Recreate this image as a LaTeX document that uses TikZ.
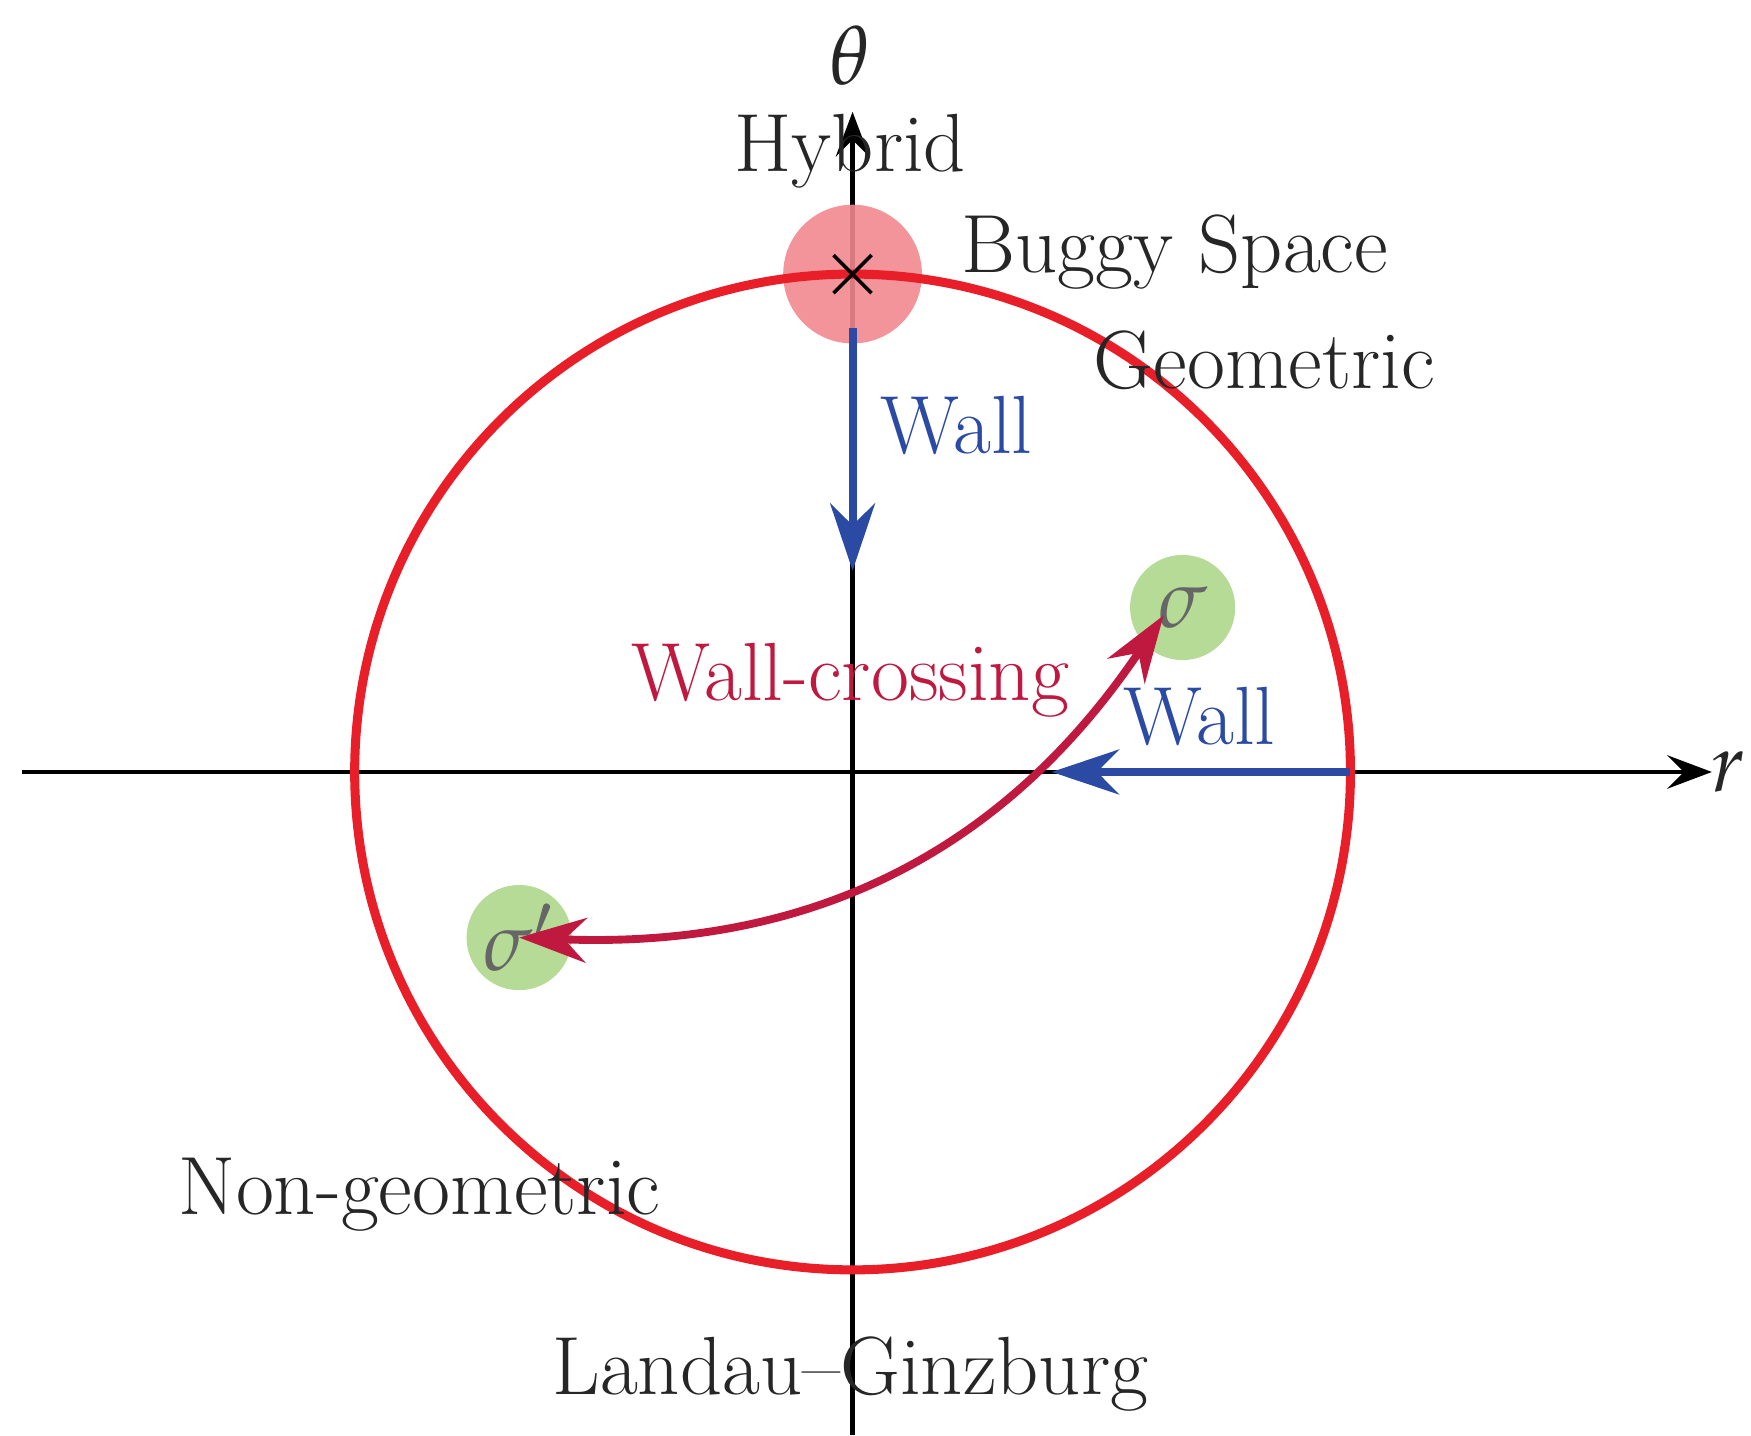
\documentclass[tikz,border=0pt]{standalone}
\usepackage{mathpazo}
\usetikzlibrary{positioning, arrows.meta}
\definecolor{wallred}{rgb}{0.91,0.12,0.16}
\definecolor{wallblue}{rgb}{0.17,0.29,0.64}
\definecolor{crimson}{rgb}{0.75,0.10,0.25}
\definecolor{leaf}{rgb}{0.71,0.86,0.59}
\definecolor{blush}{rgb}{0.95,0.53,0.56}
\begin{document}
\begin{tikzpicture}[
  x=1cm, y=1cm,
  every node/.style={font=\fontsize{21}{25}\selectfont, text=black!85},
  axis/.style={line width=1.1pt, -{Stealth[length=4mm, width=3mm, inset=1.5mm]}},
  wall/.style={line width=2pt, color=wallblue, -{Stealth[length=6mm, width=4mm]}},
  blob/.style={circle, fill=leaf, minimum size=0.94cm, inner sep=0pt},
]
\useasboundingbox (0,0) rectangle (15.65,12.83);

% axes
\coordinate (o) at (7.62,5.93);
\coordinate (xl) at (0.20,5.93);
\coordinate (xr) at (15.30,5.93);
\coordinate (yb) at (7.62,0);
\coordinate (yt) at (7.62,11.83);
\draw[axis] (xl) -- (xr);
\draw[axis] (yb) -- (yt);
\node (r) at (15.45,5.93) {$r$};
\node (theta) at (7.60,12.33) {$\theta$};

% singular point
\node[circle, fill=blush, opacity=0.9, minimum size=1.24cm, inner sep=0pt] (buggy) at (7.62,10.38) {};
\draw[line width=2.3pt, wallred] (o) circle (4.45);
\draw[line width=0.9pt] (buggy.center) ++(-0.17,-0.17) -- ++(0.34,0.34)
  (buggy.center) ++(-0.17,0.17) -- ++(0.34,-0.34);

% chambers
\node[blob] (s) at (10.57,7.40) {};
\node[blob] (sp) at (4.64,4.45) {};
\node[text=black!60] at (s) {$\sigma$};
\node[text=black!60] at (sp) {$\sigma'$};

% walls
\coordinate (w1) at (7.62,9.90);
\coordinate (w1e) at (7.62,7.73);
\coordinate (w2) at (12.07,5.93);
\coordinate (w2e) at (9.40,5.93);
\draw[wall] (w1) -- (w1e);
\draw[wall] (w2) -- (w2e);
\node[text=wallblue] (wall1) at (8.55,9.03) {Wall};
\node[text=wallblue] (wall2) at (10.72,6.43) {Wall};

% crossing
\coordinate (se) at (10.40,7.33);
\draw[line width=2pt, crimson, {Stealth[length=6mm, width=4mm]}-{Stealth[length=6mm, width=4mm]}]
  (sp.center) .. controls (7.10,4.35) and (8.90,5.10) .. (se);
\node[text=crimson] (cross) at (7.60,6.75) {Wall-crossing};

% labels
\node (hybrid) at (7.60,11.48) {Hybrid};
\node (bspace) at (10.50,10.58) {Buggy Space};
\node (geo) at (11.30,9.61) {Geometric};
\node (ngeo) at (3.75,2.15) {Non-geometric};
\node (lg) at (7.60,0.55) {Landau--Ginzburg};
\end{tikzpicture}
\end{document}
